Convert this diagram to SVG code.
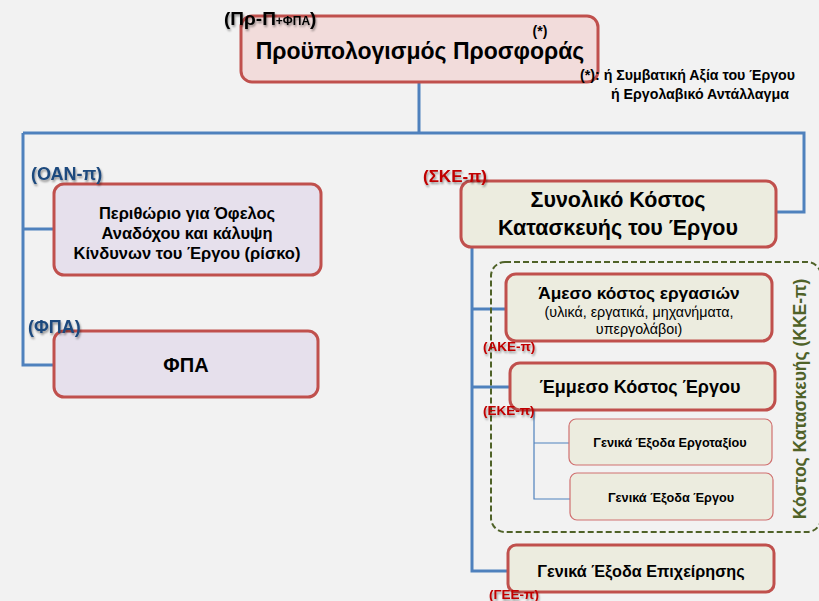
<svg xmlns="http://www.w3.org/2000/svg" width="819" height="601" viewBox="0 0 819 601">
<defs>
<style>
text{font-family:"Liberation Sans",Arial,sans-serif;font-weight:bold;fill:#000;}
.c{text-anchor:middle;}
.box{stroke:#c0504d;stroke-width:3;}
.thin{stroke:#d07070;stroke-width:1.2;}
.pink{fill:#f2dcdb;}
.lav{fill:#e6e0ec;}
.grn{fill:#ececdf;}
.conn{fill:none;stroke:#4f81bd;stroke-width:3;}
.conn2{fill:none;stroke:#4f81bd;stroke-width:1.2;}
.lblue{fill:#1f497d;}
.lred{fill:#c00000;}
.sh{filter:url(#ts);}
</style>
<filter id="ts" x="-10%" y="-30%" width="130%" height="170%">
<feGaussianBlur in="SourceAlpha" stdDeviation="0.8"/>
<feOffset dx="1" dy="1.5" result="b"/>
<feComponentTransfer><feFuncA type="linear" slope="0.4"/></feComponentTransfer>
<feMerge><feMergeNode/><feMergeNode in="SourceGraphic"/></feMerge>
</filter>
</defs>
<rect x="0" y="0" width="819" height="601" fill="#f2f2f2"/>

<g id="connectors">
<path class="conn" d="M419,82 V133 M23,133 H804 V212 H776 M23,133 V365 H53 M23,229 H53"/>
<path class="conn" d="M472,247 V571 H508 M472,309 H506 M472,387 H510"/>
<path class="conn2" d="M534,410 V499 H570 M534,443 H569"/>
</g>

<g id="kke-group">
<rect x="491" y="262" width="330" height="270" rx="14" fill="none" stroke="#4f6228" stroke-width="2" stroke-dasharray="6,3"/>
<text transform="translate(806,399) rotate(-90)" class="c" font-size="17.5" style="fill:#4f6228">Κόστος Κατασκευής  (ΚΚΕ-π)</text>
</g>

<g id="node-budget">
<rect x="241" y="16" width="357" height="66" rx="11" class="box pink"/>
<text x="420" y="59" class="c" font-size="23" style="font-weight:600">Προϋπολογισμός Προσφοράς</text>
<text x="540" y="36" class="c" font-size="14">(*)</text>
<text x="224" y="25" font-size="19" class="sh">(Πρ-Π<tspan font-size="12">+ΦΠΑ</tspan>)</text>
</g>

<g id="footnote">
<text x="580" y="80" font-size="14.2">(*): ή  Συμβατική Αξία του Έργου</text>
<text x="611" y="99" font-size="14.2">ή  Εργολαβικό Αντάλλαγμα</text>
</g>

<g id="node-oan">
<rect x="54" y="184" width="267" height="91" rx="10" class="box lav"/>
<text x="187" y="219" class="c" font-size="16.5">Περιθώριο για Όφελος</text>
<text x="187" y="239" class="c" font-size="16.5">Αναδόχου και κάλυψη</text>
<text x="187" y="259" class="c" font-size="16.5">Κίνδυνων του Έργου (ρίσκο)</text>
<text x="31" y="180" font-size="18" class="lblue sh">(ΟΑΝ-π)</text>
</g>

<g id="node-fpa">
<rect x="54" y="331" width="264" height="66" rx="10" class="box lav"/>
<text x="186" y="372" class="c" font-size="20">ΦΠΑ</text>
<text x="28" y="333" font-size="18" class="lblue sh">(ΦΠΑ)</text>
</g>

<g id="node-ske">
<rect x="461" y="181" width="315" height="66" rx="10" class="box grn"/>
<text x="618" y="207" class="c" font-size="21.5" style="font-weight:600">Συνολικό Κόστος</text>
<text x="618" y="235" class="c" font-size="21.5" style="font-weight:600">Κατασκευής του Έργου</text>
<text x="423" y="182" font-size="17" class="lred sh">(ΣΚΕ-π)</text>
</g>

<g id="node-ake">
<rect x="506" y="274" width="266" height="67" rx="10" class="box grn"/>
<text x="639" y="299" class="c" font-size="17.3">Άμεσο κόστος εργασιών</text>
<text x="639" y="317" class="c" font-size="14.3" style="font-weight:normal">(υλικά, εργατικά, μηχανήματα,</text>
<text x="639" y="334" class="c" font-size="14.3" style="font-weight:normal">υπεργολάβοι)</text>
<text x="483" y="351" font-size="13.5" class="lred sh">(ΑΚΕ-π)</text>
</g>

<g id="node-eke">
<rect x="510" y="363" width="265" height="47" rx="10" class="box grn"/>
<text x="640" y="393" class="c" font-size="18" style="font-weight:600">Έμμεσο Κόστος Έργου</text>
<text x="483" y="415" font-size="13.5" class="lred sh">(ΕΚΕ-π)</text>
</g>

<g id="node-site">
<rect x="569" y="419" width="203" height="46" rx="7" class="thin grn"/>
<text x="670" y="447" class="c" font-size="12.7">Γενικά Έξοδα  Εργοταξίου</text>
</g>

<g id="node-project">
<rect x="570" y="473" width="203" height="47" rx="7" class="thin grn"/>
<text x="671" y="502" class="c" font-size="12.7">Γενικά Έξοδα  Έργου</text>
</g>

<g id="node-gee">
<rect x="508" y="545" width="266" height="47" rx="8" class="box grn"/>
<text x="641" y="577" class="c" font-size="16.2" style="font-weight:600">Γενικά Έξοδα Επιχείρησης</text>
<text x="489" y="599" font-size="13.5" class="lred sh">(ΓΕΕ-π)</text>
</g>
</svg>
